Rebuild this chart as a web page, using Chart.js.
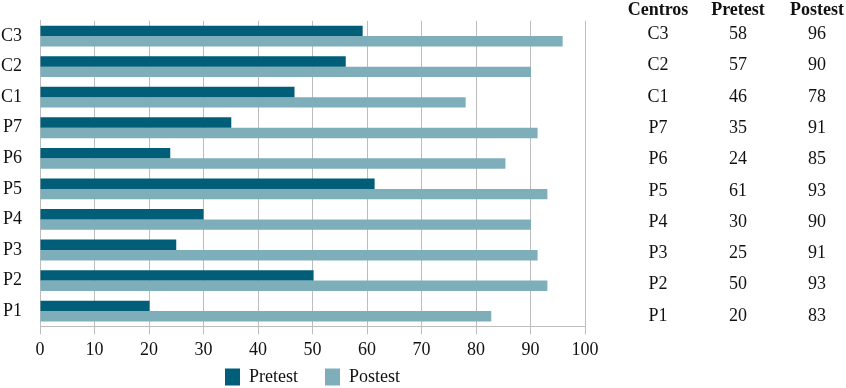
<!DOCTYPE html>
<html lang="es">
<head>
  <meta charset="UTF-8" />
  <title>Pretest / Postest</title>
  <script src="https://cdn.jsdelivr.net/npm/chart.js"></script>
  <style>
    body { margin: 0; background: #fff; font-family: "Liberation Serif", "DejaVu Serif", serif; }
    #wrap { position: relative; width: 846px; height: 388px; }
    #grafica { position: absolute; left: 0; top: 0; }
    #tabla { position: absolute; left: 0; top: 0; width: 846px; height: 388px; color: #111; font-size: 18px; }
    #tabla span { position: absolute; transform: translate(-50%, -50%); white-space: nowrap; }
    #tabla .cab { font-weight: bold; }
  </style>
</head>
<body>
  <div id="wrap">
    <canvas id="grafica" width="610" height="388"></canvas>
    <div id="tabla"></div>
  </div>

  <script>
    // categorias de arriba a abajo
    const centros = ["C3", "C2", "C1", "P7", "P6", "P5", "P4", "P3", "P2", "P1"];
    const pretest = [59.2, 56.1, 46.7, 35.1, 23.9, 61.4, 30, 25, 50.2, 20.1];
    const postest = [95.9, 90.1, 78.1, 91.3, 85.4, 93.1, 90.1, 91.3, 93.1, 82.8];
    // valores de la tabla de la derecha
    const tablaPre = [58, 57, 46, 35, 24, 61, 30, 25, 50, 20];
    const tablaPost = [96, 90, 78, 91, 85, 93, 90, 91, 93, 83];
    const cabeceras = ["Centros", "Pretest", "Postest"];

    const fuente = { family: "'Liberation Serif', 'DejaVu Serif', serif", size: 18 };
    const gris = "#bdbdbd";

    // la leyenda ocupa menos alto del que pide su padding (27 para separar los items)
    const leyendaCorta = {
      id: "leyendaCorta",
      beforeInit(chart) {
        const leyenda = chart.legend;
        const fit = leyenda.fit;
        const draw = leyenda.draw;
        leyenda.fit = function () {
          fit.call(this);
          this.height = 22;
        };
        leyenda.draw = function () {
          const top = this.top;
          this.top = top - 25;
          draw.call(this);
          this.top = top;
        };
      }
    };

    new Chart(document.getElementById("grafica"), {
      type: "bar",
      data: {
        labels: centros,
        datasets: [
          { label: "Pretest", data: pretest, backgroundColor: "#015e78" },
          { label: "Postest", data: postest, backgroundColor: "#7eaeba" }
        ]
      },
      options: {
        indexAxis: "y",
        responsive: false,
        animation: false,
        categoryPercentage: 0.68,
        barPercentage: 1,
        layout: { padding: { top: 17, right: 25, left: 0, bottom: 0 } },
        scales: {
          x: {
            min: 0, max: 100,
            ticks: { stepSize: 10, color: "#111", font: fuente, padding: 5 },
            grid: { color: gris, tickLength: 8 },
            border: { color: gris }
          },
          y: {
            ticks: { color: "#111", font: fuente, padding: 10 },
            grid: {
              drawOnChartArea: false,
              tickLength: 8,
              color: ctx => ctx.index === centros.length ? gris : "rgba(0,0,0,0)"
            },
            border: { color: gris },
            afterFit(scale) { scale.width = 40; }
          }
        },
        plugins: {
          legend: {
            position: "bottom",
            fullSize: false,
            labels: { color: "#111", font: fuente, boxWidth: 15, boxHeight: 17, padding: 27 }
          },
          tooltip: { enabled: false }
        }
      },
      plugins: [leyendaCorta]
    });

    // tabla de la derecha, filas alineadas con las barras
    const tabla = document.getElementById("tabla");
    const columnas = [658, 738, 817];
    function celda(texto, x, y, cls) {
      const s = document.createElement("span");
      s.textContent = texto;
      s.style.left = x + "px";
      s.style.top = y + "px";
      if (cls) s.className = cls;
      tabla.appendChild(s);
    }
    cabeceras.forEach((c, i) => celda(c, columnas[i], 9, "cab"));
    centros.forEach((c, i) => {
      const y = 33 + i * 31.3;
      celda(c, columnas[0], y);
      celda(tablaPre[i], columnas[1], y);
      celda(tablaPost[i], columnas[2], y);
    });
  </script>
</body>
</html>
